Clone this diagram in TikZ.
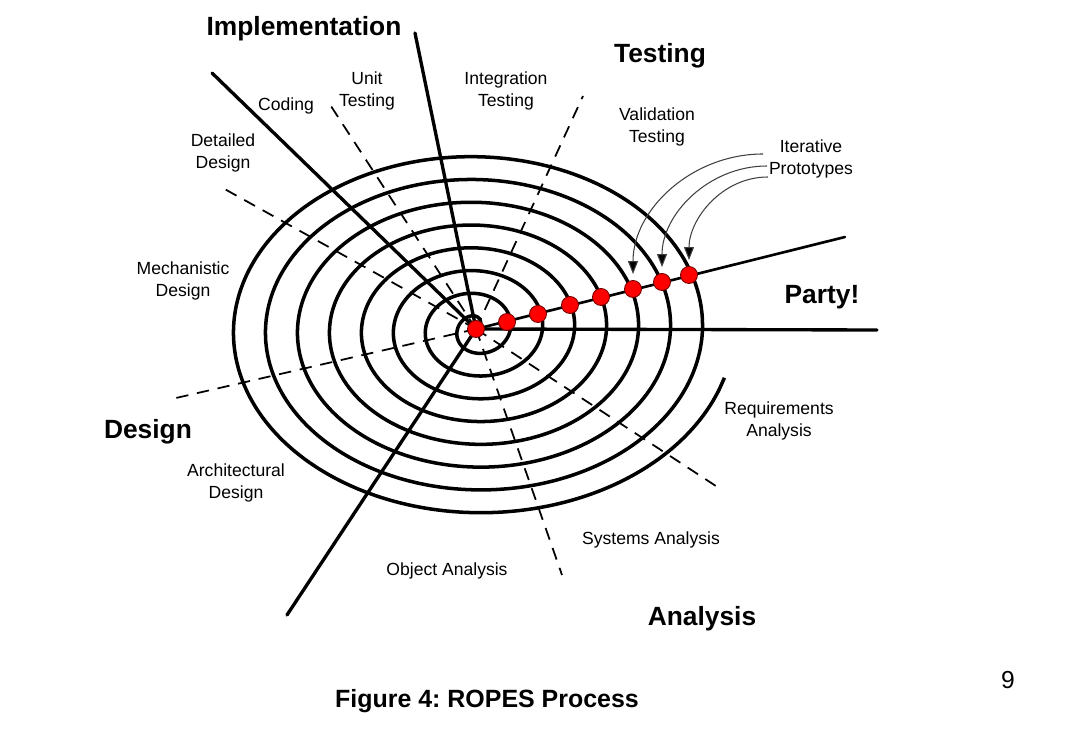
\documentclass[tikz,border=0pt]{standalone}
\usepackage{fontspec}
\setmainfont{Liberation Sans}
\usetikzlibrary{arrows.meta}
\frenchspacing
\begin{document}
\begin{tikzpicture}[x=0.02cm,y=-0.02cm,
  solidln/.style={line width=1.9pt, line cap=round},
  dashln/.style={line width=1.0pt, dash pattern=on 7pt off 5pt},
  spiralln/.style={line width=2.0pt, line join=round},
  reddot/.style={circle, fill=red, draw=red!45!black, line width=0.5pt, minimum size=0.34cm, inner sep=0pt},
  lab/.style={align=center, inner sep=0pt, font=\fontsize{10}{12.4}\selectfont},
  big/.style={inner sep=0pt, font=\fontsize{15}{18}\selectfont\bfseries},
  proto/.style={draw=black!75, line width=0.6pt, -{Triangle[width=0.2cm,length=0.26cm,fill=black]}, shorten >=0.12cm}
]
\useasboundingbox (0,0) rectangle (1076,732);

% centre and outer ends of the radial lines
\coordinate (c) at (476,329);
\coordinate (eImpl) at (415,33);
\coordinate (eCode) at (212,73);
\coordinate (eLow) at (287,615);
\coordinate (eHor) at (877,330);
\coordinate (eParty) at (845,237);
\coordinate (eUnit) at (327,100);
\coordinate (eInteg) at (583,96);
\coordinate (eDet) at (221,187);
\coordinate (eMech) at (176,398);
\coordinate (eObj) at (562,575);
\coordinate (eSys) at (722,490);

% dashed phase boundaries
\draw[dashln] (c) -- (eUnit);
\draw[dashln] (c) -- (eInteg);
\draw[dashln] (c) -- (eDet);
\draw[dashln] (c) -- (eMech);
\draw[dashln] (c) -- (eObj);
\draw[dashln] (c) -- (eSys);

% spiral
\draw[spiralln] plot[domain=0:2865, samples=700, smooth, variable=\t]
  ({476+(\t/360*32+2.5)*cos(\t)}, {329-(\t/360*22.8+7)*sin(\t)});

% solid main boundaries
\draw[solidln] (c) -- (eImpl);
\draw[solidln] (c) -- (eCode);
\draw[solidln] (c) -- (eLow);
\draw[solidln] (c) -- (eHor);
\draw[solidln, line width=1.5pt] (c) -- (eParty);

% red prototype dots
\node[reddot] (d0) at (476,329) {};
\node[reddot] (d1) at (507,322) {};
\node[reddot] (d2) at (538,314) {};
\node[reddot] (d3) at (570,305) {};
\node[reddot] (d4) at (601,297) {};
\node[reddot] (d5) at (633,289) {};
\node[reddot] (d6) at (662,282) {};
\node[reddot] (d7) at (689,275) {};

% labels
\node[big] (impl) at (304,29) {Implementation};
\node[big] (test) at (660,56) {Testing};
\node[big] (party) at (822,297) {Party!};
\node[big] (design) at (148,432) {Design};
\node[big] (anal) at (702,619) {Analysis};
\node[big, font=\fontsize{14.2}{17}\selectfont\bfseries] (fig) at (487,701) {Figure 4: ROPES Process};
\node[lab, font=\fontsize{14}{16}\selectfont] (pg) at (1008,680) {9};

\node[lab] (unit) at (367,91) {Unit\\Testing};
\node[lab] (coding) at (286,106) {Coding};
\node[lab] (integ) at (506,91) {Integration\\Testing};
\node[lab] (detail) at (223,153) {Detailed\\Design};
\node[lab] (valid) at (657,127) {Validation\\Testing};
\node[lab] (iter) at (811,159) {Iterative\\Prototypes};
\node[lab] (mech) at (183,281) {Mechanistic\\Design};
\node[lab] (req) at (779,421) {Requirements\\Analysis};
\node[lab] (arch) at (236,483) {Architectural\\Design};
\node[lab] (sys) at (651,540) {Systems Analysis};
\node[lab] (obj) at (447,571) {Object Analysis};

% iterative prototype arrows
\coordinate (s1) at (763,154);
\coordinate (s2) at (767,166);
\coordinate (s3) at (768,177);
\draw[proto] (s1) to[out=180,in=90] (d5);
\draw[proto] (s2) to[out=180,in=90] (d6);
\draw[proto] (s3) to[out=180,in=90] (d7);
\end{tikzpicture}
\end{document}
